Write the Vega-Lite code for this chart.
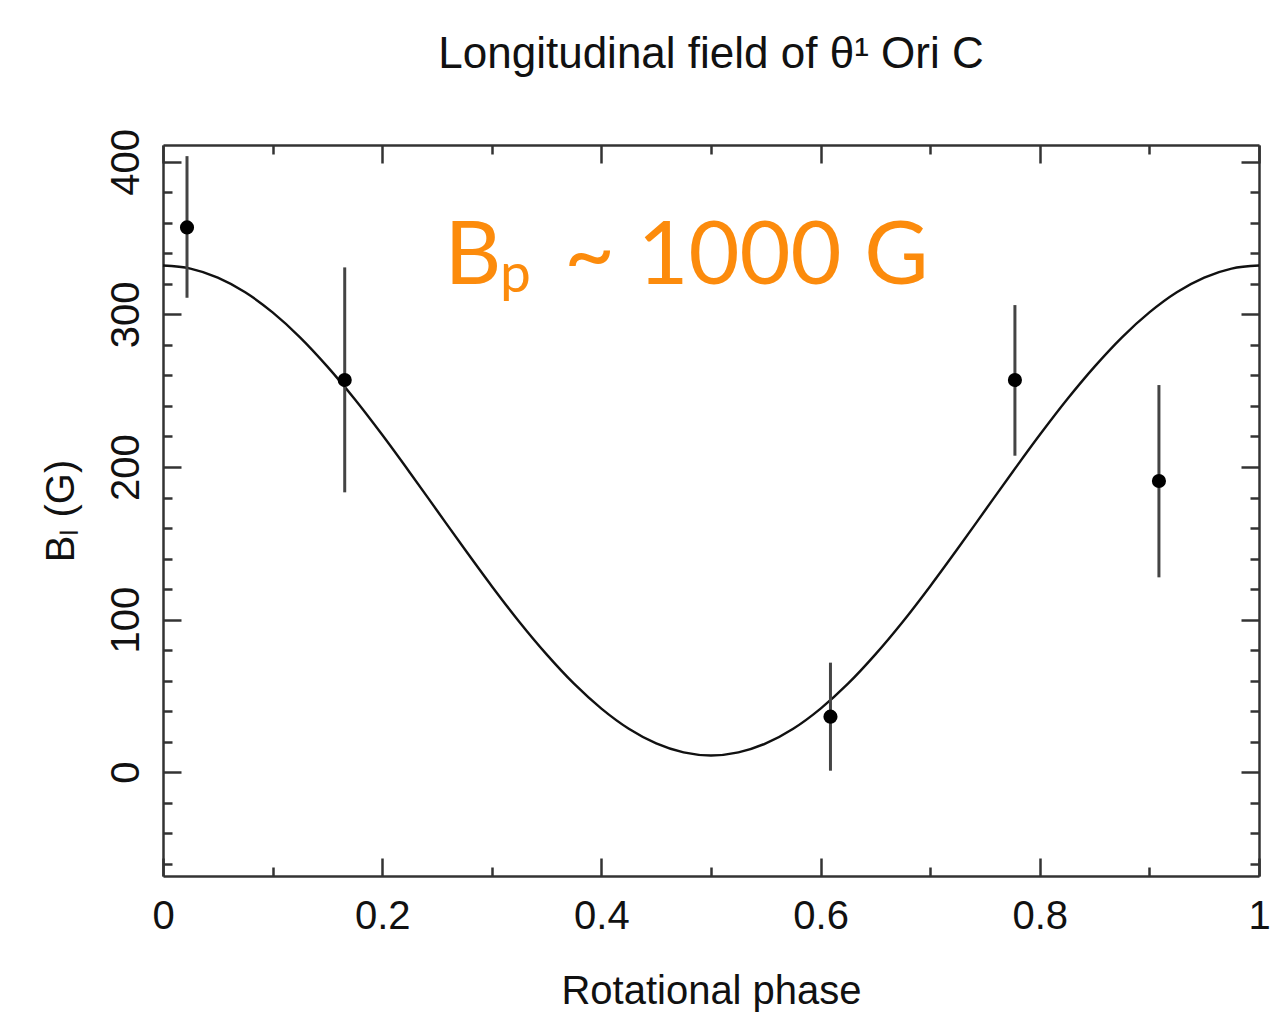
{
  "$schema": "https://vega.github.io/schema/vega-lite/v6.json",
  "width": 1096,
  "height": 731,
  "autosize": {"type": "none"},
  "padding": {"left": 163, "top": 145, "right": 12, "bottom": 138},
  "background": "white",
  "title": {"text": "Longitudinal field of θ¹ Ori C", "font": "Liberation Sans", "fontSize": 44, "fontWeight": "normal", "color": "#111", "anchor": "middle", "baseline": "alphabetic", "offset": 16},
  "config": {
    "view": {"stroke": null},
    "axis": {"grid": false, "domainColor": "#333", "domainWidth": 2.5, "tickColor": "#333", "tickWidth": 2.5, "labelFont": "Liberation Sans", "labelFontSize": 40, "labelColor": "#111", "titleFont": "Liberation Sans", "titleFontSize": 40, "titleFontWeight": "normal", "titleColor": "#111", "labelOverlap": false, "labelFlush": false}
  },
  "datasets": {
    "curve": [
      {"phase": 0, "B": 332.0}, {"phase": 0.025, "B": 330.0}, {"phase": 0.05, "B": 324.1}, {"phase": 0.075, "B": 314.5},
      {"phase": 0.1, "B": 301.3}, {"phase": 0.125, "B": 285.0}, {"phase": 0.15, "B": 265.8}, {"phase": 0.175, "B": 244.4},
      {"phase": 0.2, "B": 221.1}, {"phase": 0.225, "B": 196.6}, {"phase": 0.25, "B": 171.5}, {"phase": 0.275, "B": 146.4},
      {"phase": 0.3, "B": 121.9}, {"phase": 0.325, "B": 98.6}, {"phase": 0.35, "B": 77.2}, {"phase": 0.375, "B": 58.0},
      {"phase": 0.4, "B": 41.7}, {"phase": 0.425, "B": 28.5}, {"phase": 0.45, "B": 18.9}, {"phase": 0.475, "B": 13.0},
      {"phase": 0.5, "B": 11.0}, {"phase": 0.525, "B": 13.0}, {"phase": 0.55, "B": 18.9}, {"phase": 0.575, "B": 28.5},
      {"phase": 0.6, "B": 41.7}, {"phase": 0.625, "B": 58.0}, {"phase": 0.65, "B": 77.2}, {"phase": 0.675, "B": 98.6},
      {"phase": 0.7, "B": 121.9}, {"phase": 0.725, "B": 146.4}, {"phase": 0.75, "B": 171.5}, {"phase": 0.775, "B": 196.6},
      {"phase": 0.8, "B": 221.1}, {"phase": 0.825, "B": 244.4}, {"phase": 0.85, "B": 265.8}, {"phase": 0.875, "B": 285.0},
      {"phase": 0.9, "B": 301.3}, {"phase": 0.925, "B": 314.5}, {"phase": 0.95, "B": 324.1}, {"phase": 0.975, "B": 330.0},
      {"phase": 1.0, "B": 332.0}
    ],
    "obs": [
      {"phase": 0.0219, "B": 357.0, "lo": 310.9, "hi": 403.7},
      {"phase": 0.1658, "B": 257.0, "lo": 183.4, "hi": 330.8},
      {"phase": 0.609, "B": 36.4, "lo": 1.0, "hi": 71.8},
      {"phase": 0.7773, "B": 257.0, "lo": 207.4, "hi": 306.1},
      {"phase": 0.9087, "B": 190.8, "lo": 127.7, "hi": 253.7}
    ]
  },
  "layer": [
    {
      "data": {"name": "curve"},
      "mark": {"type": "line", "interpolate": "monotone", "color": "#111", "strokeWidth": 2.4},
      "encoding": {
        "x": {"field": "phase", "type": "quantitative", "scale": {"domain": [0, 1], "nice": false, "zero": false},
          "axis": {"orient": "bottom", "values": [0, 0.1, 0.2, 0.3, 0.4, 0.5, 0.6, 0.7, 0.8, 0.9, 1], "format": "~g",
            "labelExpr": "round(datum.value*10) % 2 == 0 ? datum.label : ''",
            "tickSize": {"condition": {"test": "round(datum.value*10) % 2 == 0", "value": -18}, "value": -9},
            "labelPadding": 38, "title": "Rotational phase", "titlePadding": 26}},
        "y": {"field": "B", "type": "quantitative", "scale": {"domain": [-68, 411], "nice": false, "zero": false},
          "axis": {"orient": "left", "values": [-60, -40, -20, 0, 20, 40, 60, 80, 100, 120, 140, 160, 180, 200, 220, 240, 260, 280, 300, 320, 340, 360, 380, 400],
            "labelExpr": "datum.value % 100 == 0 ? datum.label : ''",
            "tickSize": {"condition": {"test": "datum.value % 100 == 0", "value": -18}, "value": -9},
            "labelAngle": -90, "labelAlign": "center", "labelBaseline": "alphabetic", "labelPadding": 43,
            "title": "Bₗ (G)", "titleBaseline": "alphabetic", "titlePadding": 24}}
      }
    },
    {
      "data": {"name": "obs"},
      "mark": {"type": "rule", "color": "#444", "strokeWidth": 3},
      "encoding": {
        "x": {"field": "phase", "type": "quantitative",
          "axis": {"orient": "top", "labels": false, "title": null, "values": [0, 0.1, 0.2, 0.3, 0.4, 0.5, 0.6, 0.7, 0.8, 0.9, 1],
            "tickSize": {"condition": {"test": "round(datum.value*10) % 2 == 0", "value": -18}, "value": -9}}},
        "y": {"field": "lo", "type": "quantitative",
          "axis": {"orient": "right", "labels": false, "title": null, "values": [-60, -40, -20, 0, 20, 40, 60, 80, 100, 120, 140, 160, 180, 200, 220, 240, 260, 280, 300, 320, 340, 360, 380, 400],
            "tickSize": {"condition": {"test": "datum.value % 100 == 0", "value": -18}, "value": -9}}},
        "y2": {"field": "hi"}
      }
    },
    {
      "data": {"name": "obs"},
      "mark": {"type": "point", "filled": true, "shape": "circle", "size": 200, "color": "#000", "opacity": 1},
      "encoding": {
        "x": {"field": "phase", "type": "quantitative", "axis": null},
        "y": {"field": "B", "type": "quantitative", "axis": null}
      }
    },
    {
      "data": {"values": [{"label": "B"}]},
      "mark": {"type": "text", "font": "Lato", "fontSize": 88, "color": "#fc8b0c", "align": "left", "baseline": "alphabetic"},
      "encoding": {
        "x": {"datum": 0.2569, "type": "quantitative", "axis": null},
        "y": {"datum": 319.9, "type": "quantitative", "axis": null},
        "text": {"field": "label"}
      }
    },
    {
      "data": {"values": [{"label": "p"}]},
      "mark": {"type": "text", "font": "Lato", "fontSize": 55, "color": "#fc8b0c", "align": "left", "baseline": "alphabetic"},
      "encoding": {
        "x": {"datum": 0.3075, "type": "quantitative", "axis": null},
        "y": {"datum": 314.4, "type": "quantitative", "axis": null},
        "text": {"field": "label"}
      }
    },
    {
      "data": {"values": [{"label": "~ 1000 G"}]},
      "mark": {"type": "text", "font": "Lato", "fontSize": 88, "color": "#fc8b0c", "align": "right", "baseline": "alphabetic"},
      "encoding": {
        "x": {"datum": 0.6984, "type": "quantitative", "axis": null},
        "y": {"datum": 319.9, "type": "quantitative", "axis": null},
        "text": {"field": "label"}
      }
    }
  ],
  "resolve": {"axis": {"x": "independent", "y": "independent"}}
}
